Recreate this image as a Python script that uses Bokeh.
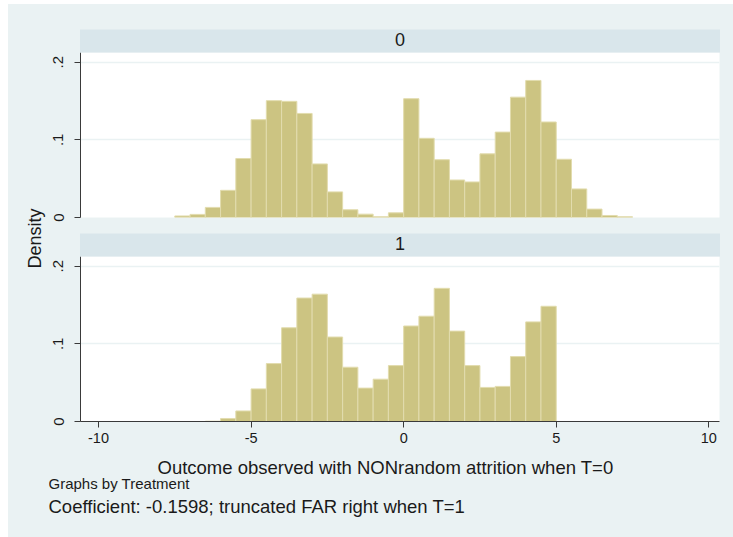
from bokeh.plotting import figure
from bokeh.models import Range1d, FixedTicker, Title, Label
from bokeh.layouts import row, column
from bokeh.embed import file_html
from bokeh.resources import INLINE

# ---------------- data ----------------
bin_width = 0.5
bin_start_0 = -7.5
density_0 = [0.002, 0.004, 0.013, 0.035, 0.076, 0.126, 0.1505, 0.1496, 0.134, 0.069,
             0.033, 0.010, 0.0043, 0.001, 0.006, 0.153, 0.102, 0.0744, 0.0483, 0.0458,
             0.082, 0.110, 0.155, 0.1765, 0.123, 0.075, 0.0368, 0.0108, 0.0026, 0.001]
bin_start_1 = -6.5
density_1 = [0.0004, 0.0039, 0.0136, 0.042, 0.0746, 0.1207, 0.159, 0.164, 0.1088, 0.0699,
             0.043, 0.0545, 0.072, 0.123, 0.1356, 0.1715, 0.1164, 0.072, 0.0439, 0.0452,
             0.0836, 0.1283, 0.1484]
panel_labels = ["0", "1"]
x_ticks = [-10, -5, 0, 5, 10]
x_tick_labels = ["-10", "-5", "0", "5", "10"]
y_ticks = [0, 0.1, 0.2]
y_tick_labels = ["0", ".1", ".2"]
grid_ticks = [0.1, 0.2]
x_title = "Outcome observed with NONrandom attrition when T=0"
y_title = "Density"
note_1 = "Graphs by Treatment"
note_2 = "Coefficient: -0.1598; truncated FAR right when T=1"

# ---------------- styles ----------------
BG = "#EAF2F3"
STRIP = "#D9E6EB"
BAR = "#CCC482"
BAR_EDGE = "#E2DCAE"
AXIS = "#3A3A3A"
TXT = "#1A1A1A"
FONT = "Liberation Sans"
X_RANGE = (-10.59, 10.35)
Y_RANGE = (0, 0.2125)


def make_panel(label, start, dens, bottom_panel):
    p = figure(width=685, height=218 if bottom_panel else 227,
               frame_width=639, frame_height=165,
               min_border_left=32, min_border_right=14,
               min_border_top=23 if bottom_panel else 48,
               min_border_bottom=30 if bottom_panel else 14,
               x_range=Range1d(*X_RANGE), y_range=Range1d(*Y_RANGE),
               title=None, toolbar_location=None, output_backend="svg",
               x_axis_location="below" if bottom_panel else None,
               background_fill_color="white", border_fill_color=BG,
               outline_line_color=None)
    head = Title(text=label, align="center", text_font=FONT, text_font_size="18px",
                 text_font_style="normal", text_color=TXT, standoff=0,
                 background_fill_color=STRIP,
                 padding=dict(left=315, right=315, top=3, bottom=7))
    p.add_layout(head, "above")

    centers = [start + bin_width * (i + 0.5) for i in range(len(dens))]
    p.vbar(x=centers, width=bin_width, top=dens, bottom=0,
           fill_color=BAR, line_color=BAR_EDGE, line_width=1)

    p.xgrid.visible = False
    p.ygrid.ticker = FixedTicker(ticks=grid_ticks)
    p.ygrid.grid_line_color = BG
    p.ygrid.grid_line_width = 1.5

    ya = p.yaxis[0]
    ya.ticker = FixedTicker(ticks=y_ticks)
    ya.major_label_overrides = {t: s for t, s in zip(y_ticks, y_tick_labels)}
    ya.major_label_orientation = "vertical"
    ya.major_tick_out = 6
    ya.major_tick_in = 0
    ya.minor_tick_out = 0
    ya.minor_tick_in = 0
    ya.axis_line_color = AXIS
    ya.major_tick_line_color = AXIS
    ya.major_label_text_font = FONT
    ya.major_label_text_font_size = "15px"
    ya.major_label_text_color = TXT
    ya.major_label_standoff = 11

    if bottom_panel:
        xa = p.xaxis[0]
        xa.ticker = FixedTicker(ticks=x_ticks)
        xa.major_label_overrides = {t: s for t, s in zip(x_ticks, x_tick_labels)}
        xa.major_tick_out = 6
        xa.major_tick_in = 0
        xa.minor_tick_out = 0
        xa.minor_tick_in = 0
        xa.axis_line_color = AXIS
        xa.major_tick_line_color = AXIS
        xa.major_label_text_font = FONT
        xa.major_label_text_font_size = "14.5px"
        xa.major_label_text_color = TXT
        xa.major_label_standoff = 5
    return p


p0 = make_panel(panel_labels[0], bin_start_0, density_0, False)
p1 = make_panel(panel_labels[1], bin_start_1, density_1, True)

# footer: x-axis title and notes
pf = figure(width=685, height=88, min_border_left=0, min_border_right=0,
            min_border_top=0, min_border_bottom=0, title=None,
            toolbar_location=None, output_backend="svg",
            x_axis_location=None, y_axis_location=None,
            background_fill_color=BG, border_fill_color=BG, outline_line_color=None)
pf.frame_align = False
pf.grid.visible = False
common = dict(x_units="screen", y_units="screen", text_font=FONT,
              text_color=TXT, text_baseline="middle", text_align="left")
pf.add_layout(Label(x=109, y=72, text=x_title, text_font_size="18.5px", **common))
pf.add_layout(Label(x=0, y=56, text=note_1, text_font_size="15px", **common))
pf.add_layout(Label(x=0, y=33.5, text=note_2, text_font_size="18.5px", **common))

# left strip carrying the shared y-axis title
pl = figure(width=40, height=533, min_border_left=36, min_border_right=0,
            min_border_top=48, min_border_bottom=113, title=None,
            toolbar_location=None, output_backend="svg",
            x_axis_location=None, y_axis_location=None,
            background_fill_color=BG, border_fill_color=BG, outline_line_color=None)
pl.grid.visible = False
pl.add_layout(Title(text=y_title, align="center", text_font=FONT, text_font_size="18px",
                    text_font_style="normal", text_color=TXT, standoff=0), "left")

layout = row(pl, column(p0, p1, pf), margin=(4, 0, 0, 8),
             styles={"background-color": BG})
open("out.html", "w").write(file_html(layout, INLINE))
